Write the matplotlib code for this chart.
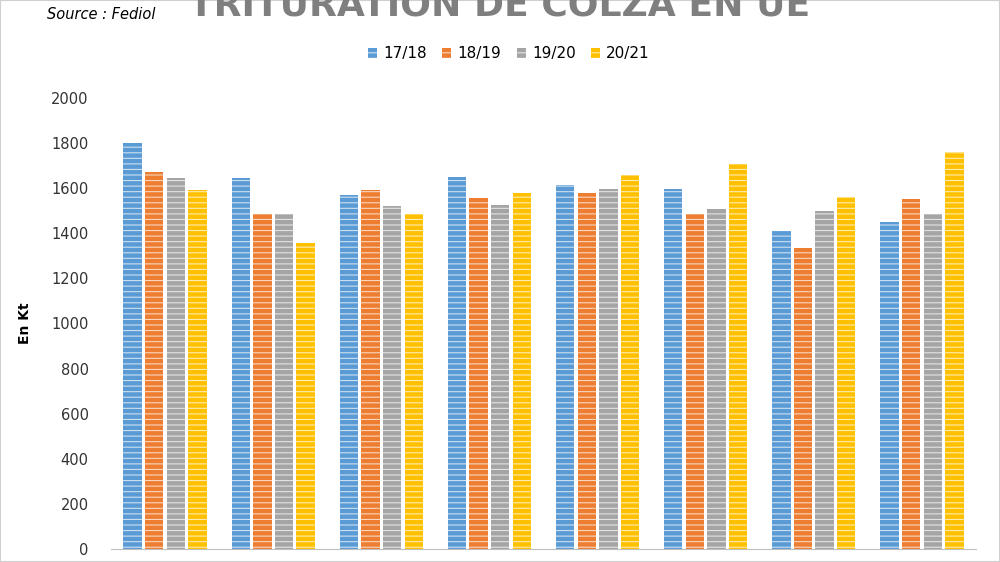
import matplotlib
matplotlib.use("Agg")
import matplotlib.pyplot as plt
import numpy as np

series = ["17/18", "18/19", "19/20", "20/21"]
colors = ["#5B9BD5", "#ED7D31", "#A5A5A5", "#FFC000"]
v1718 = [1800, 1645, 1570, 1650, 1615, 1595, 1410, 1450]
v1819 = [1670, 1485, 1590, 1555, 1580, 1485, 1335, 1550]
v1920 = [1645, 1485, 1520, 1525, 1595, 1505, 1500, 1485]
v2021 = [1590, 1355, 1485, 1580, 1660, 1705, 1560, 1760]
values = [v1718, v1819, v1920, v2021]
yticks = list(range(0, 2001, 200))

plt.rcParams['hatch.linewidth'] = 0.8
plt.rcParams['hatch.color'] = "white"
fig = plt.figure(figsize=(10, 5.62), dpi=100)
ax = fig.add_axes([0.111, 0.023, 0.865, 0.803])
x = np.arange(len(v1718))
w = 0.17
for i, (s, c, v) in enumerate(zip(series, colors, values)):
    ax.bar(x + (i - 1.5) * 0.2, v, w, color=c, edgecolor="#FFFFFFB0", hatch="---",
           linewidth=0, label=s)
ax.set_xlim(-0.5, len(v1718) - 0.5)
ax.set_ylim(0, 2000)
ax.set_yticks(yticks)
ax.tick_params(axis="y", length=0, labelsize=10.5, colors="#333333", pad=16)
ax.set_xticks([])
for sp in ["top", "right", "left"]:
    ax.spines[sp].set_visible(False)
ax.spines["bottom"].set_color("#BFBFBF")
ax.set_ylabel("En Kt", fontsize=10, fontweight="bold", labelpad=14)
ax.legend(loc="upper center", bbox_to_anchor=(0.46, 1.145), ncol=4, frameon=False,
          fontsize=11, handlelength=0.6, handleheight=0.6, columnspacing=1.0,
          handletextpad=0.4)
fig.text(0.5, 0.99, "TRITURATION DE COLZA EN UE", ha="center", va="center",
         fontsize=26, color="#7F7F7F", fontfamily="Liberation Sans Narrow",
         fontweight="bold")
fig.text(0.047, 0.975, "Source : Fediol", ha="left", va="center", fontsize=10.5,
         style="italic")
fig.add_artist(plt.Rectangle((0, 0), 1, 1, transform=fig.transFigure, fill=False,
                             edgecolor="#D0D0D0", linewidth=1.5))
fig.savefig("out.png", dpi=100)
